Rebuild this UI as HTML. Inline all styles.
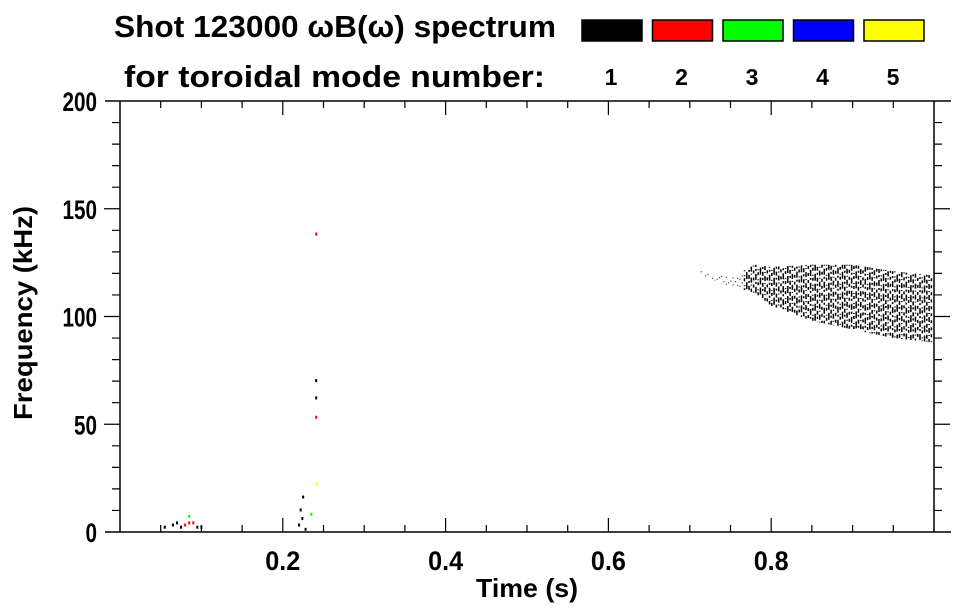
<!DOCTYPE html>
<html><head><meta charset="utf-8"><style>
html,body{margin:0;padding:0;background:#fff;}
svg{display:block;font-family:"Liberation Sans",sans-serif;font-weight:bold;}
</style></head><body>
<svg id="chart" width="963" height="615" viewBox="0 0 963 615">
  <text x="114" y="37" font-size="31" textLength="442" lengthAdjust="spacingAndGlyphs">Shot 123000 ωB(ω) spectrum</text>
  <text x="124" y="87" font-size="31" textLength="421" lengthAdjust="spacingAndGlyphs">for toroidal mode number:</text>
  <g id="legend"></g>
  <g id="marks"></g>
  <g id="axes"></g>
  <text x="527" y="597" font-size="26" text-anchor="middle" textLength="102" lengthAdjust="spacingAndGlyphs">Time (s)</text>
  <text transform="translate(32,313) rotate(-90)" font-size="26" text-anchor="middle" textLength="214" lengthAdjust="spacingAndGlyphs">Frequency (kHz)</text>
</svg>
<script>
// ---- data ----
const modeLabels = ['1','2','3','4','5'];
const modeColors = ['#000000','#ff0000','#00ff00','#0000ff','#ffff00'];
const xTicks = [0.2, 0.4, 0.6, 0.8];
const yTicks = [0, 50, 100, 150, 200];
// band envelope for mode 1 (time s, lower/upper kHz)
const bandTimes = [0.714, 0.75, 0.78, 0.80, 0.85, 0.90, 0.95, 1.0];
const bandLow   = [119, 114, 111, 105, 98, 94, 90, 88];
const bandHigh  = [121, 118, 124, 123, 124, 124, 121, 119];
// scattered points: time, freq, mode index (0-based)
const ptTimes = [0.055,0.065,0.07,0.075,0.08,0.085,0.09,0.095,0.1,0.085,0.22,0.222,0.225,0.228,0.224,0.241,0.241,0.241,0.241,0.242,0.235];
const ptFreqs = [2,3,4,2,3,4,4,2,2,7,3,10,16,1,6,53,138,62,70,22,8];
const ptModes = [0,0,0,0,1,1,1,0,0,2,0,0,0,0,0,1,1,0,0,4,2];

// ---- scales ----
const X0=120, X1=934, Y0=532, Y1=101;
const sx = t => X0 + (X1-X0)*t;
const sy = f => Y0 - (Y0-Y1)*f/200;
const NS='http://www.w3.org/2000/svg';
function mk(tag, parent, attrs){const e=document.createElementNS(NS,tag);for(const k in attrs)e.setAttribute(k,attrs[k]);parent.appendChild(e);return e;}

// legend
const lg=document.getElementById('legend');
modeLabels.forEach((lab,i)=>{
  const x=582+i*70.5;
  const r=mk('rect',lg,{x:x,y:20,width:60,height:21,fill:modeColors[i],stroke:'#000','stroke-width':1.5});
  
  
  const t=mk('text',lg,{x:x+29,y:85,'font-size':23,'text-anchor':'middle'});
  t.textContent=lab;
  
  
});

// axes
const ax=document.getElementById('axes');
const frame=mk('path',ax,{d:`M105,${Y1}H951 M${X0},${Y1}V${Y0} M105,${Y0}H951 M${X1},${Y1}V${Y0}`,stroke:'#000','stroke-width':1.5,fill:'none'});


for(let i=1;i<20;i++){
  const t=i*0.05, major=(i%4===0), L=major?14:7, x=sx(t);
  const tk=mk('path',ax,{d:`M${x},${Y0}V${Y0-L} M${x},${Y1}V${Y1+L}`,stroke:'#000','stroke-width':1.2});
  
  
}
for(let f=10;f<200;f+=10){
  const major=(f%50===0), L=major?16:8, y=sy(f);
  const tk=mk('path',ax,{d:`M${X0},${y}H${X0-L} M${X1},${y}H${X1+L}`,stroke:'#000','stroke-width':1.2});
  
  
}
xTicks.forEach(t=>{
  const e=mk('text',ax,{x:sx(t),y:570,'font-size':27,'text-anchor':'middle',textLength:35,lengthAdjust:'spacingAndGlyphs'});
  e.textContent=t.toFixed(1);
  
  
});
yTicks.forEach(f=>{
  const s=String(f);
  const e=mk('text',ax,{x:97,y:sy(f)+10,'font-size':27,'text-anchor':'end',textLength:s.length*11.5,lengthAdjust:'spacingAndGlyphs'});
  e.textContent=s;
  
  
});

// spectrogram band
const mg=document.getElementById('marks');
function interp(arr,t){
  for(let i=0;i<bandTimes.length-1;i++){
    if(t>=bandTimes[i]&&t<=bandTimes[i+1]){const u=(t-bandTimes[i])/(bandTimes[i+1]-bandTimes[i]);return arr[i]+u*(arr[i+1]-arr[i]);}
  }
  return arr[arr.length-1];
}
const tStart=bandTimes[0], tEnd=bandTimes[bandTimes.length-1];
const patterns=['6 2 2 3','3 4','5 2 1 3','2 3 4 2','7 3','1 2 3 4'];
let k=0;
for(let t=tStart;t<=tEnd-0.001;t+=0.0028,k++){
  const lo=interp(bandLow,t), hi=interp(bandHigh,t);
  const dense = t>0.765;
  const ln=mk('line',mg,{x1:sx(t),x2:sx(t),y1:sy(hi),y2:sy(lo),stroke:'#000','stroke-width':dense?1.5:1,
    'stroke-dasharray':dense?patterns[(k*5)%6]:'1 6','stroke-dashoffset':(k*13)%11});
  
  
}
// scattered points
ptTimes.forEach((t,i)=>{
  const r=mk('rect',mg,{x:sx(t)-1,y:sy(ptFreqs[i])-2,width:2,height:3,fill:modeColors[ptModes[i]]});
  
  
});
</script>
</body></html>
